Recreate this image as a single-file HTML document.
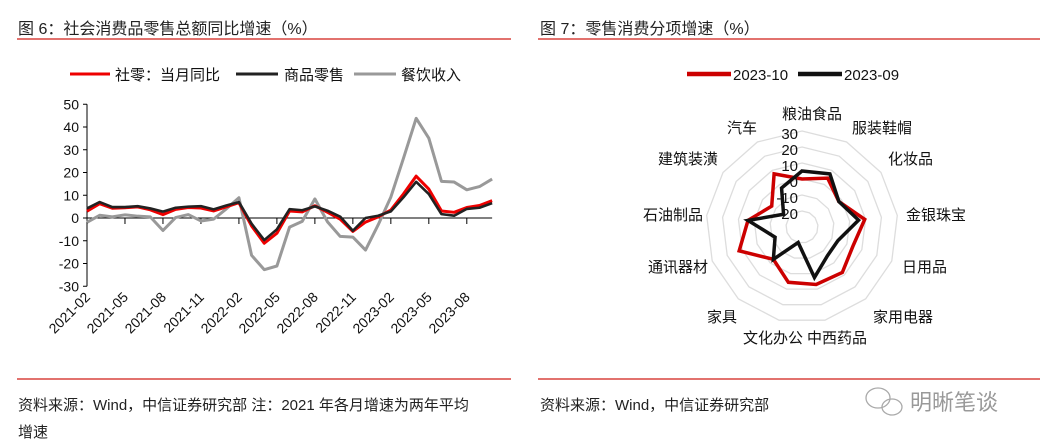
<!DOCTYPE html>
<html><head><meta charset="utf-8">
<style>
body{margin:0;background:#fff;width:1056px;height:446px;overflow:hidden;font-family:"Liberation Sans","Noto Sans CJK SC",sans-serif;}
svg{position:absolute;left:0;top:0}
</style></head><body>
<svg id="s" width="1056" height="446" xmlns="http://www.w3.org/2000/svg" font-family="Liberation Sans, Noto Sans CJK SC, sans-serif">
<text x="18" y="34" font-size="16" fill="#222">图 6：社会消费品零售总额同比增速（%）</text>
<text x="540" y="34" font-size="16" fill="#222">图 7：零售消费分项增速（%）</text>
<line x1="17" y1="39" x2="511" y2="39" stroke="#d9433f" stroke-width="1.5"/>
<line x1="538" y1="39" x2="1040" y2="39" stroke="#d9433f" stroke-width="1.5"/>
<line x1="17" y1="379" x2="511" y2="379" stroke="#d9433f" stroke-width="1.5"/>
<line x1="538" y1="379" x2="1040" y2="379" stroke="#d9433f" stroke-width="1.5"/>
<text x="18" y="410" font-size="15" fill="#222">资料来源：Wind，中信证券研究部  注：2021 年各月增速为两年平均</text>
<text x="18" y="437" font-size="15" fill="#222">增速</text>
<text x="540" y="410" font-size="15" fill="#222">资料来源：Wind，中信证券研究部</text>
<g stroke="#aaa" fill="none" stroke-width="1.3"><ellipse cx="878" cy="398" rx="12" ry="10"/><ellipse cx="892" cy="407" rx="10" ry="8"/></g>
<text x="910" y="410" font-size="22" fill="#999">明晰笔谈</text>
<line x1="70" y1="74" x2="110" y2="74" stroke="#e00" stroke-width="3"/>
<text x="115" y="80" font-size="15" fill="#111">社零：当月同比</text>
<line x1="236" y1="74" x2="278" y2="74" stroke="#222" stroke-width="3"/>
<text x="284" y="80" font-size="15" fill="#111">商品零售</text>
<line x1="354" y1="74" x2="396" y2="74" stroke="#999" stroke-width="3"/>
<text x="401" y="80" font-size="15" fill="#111">餐饮收入</text>
<line x1="687" y1="74" x2="731" y2="74" stroke="#c00" stroke-width="4.5"/>
<text x="733" y="80" font-size="15" fill="#111">2023-10</text>
<line x1="798" y1="74" x2="842" y2="74" stroke="#111" stroke-width="4.5"/>
<text x="844" y="80" font-size="15" fill="#111">2023-09</text>
<g id="L"></g><g id="R"></g>
</svg>
<script>
var NS="http://www.w3.org/2000/svg";
function el(p,t,a,txt){var e=document.createElementNS(NS,t);for(var k in a)e.setAttribute(k,a[k]);if(txt!=null)e.textContent=txt;p.appendChild(e);return e;}
var L=document.getElementById('L');
var x0=87,dx=12.66,zy=218,py=2.275;
function Y(v){return zy-v*py;}
el(L,'line',{x1:x0,y1:Y(50),x2:x0,y2:Y(-30),stroke:'#000','stroke-width':1});
for(var v=-30;v<=50;v+=10){el(L,'line',{x1:x0-4,y1:Y(v),x2:x0,y2:Y(v),stroke:'#000'});el(L,'text',{x:x0-8,y:Y(v)+5,'font-size':14,'text-anchor':'end',fill:'#111'},v);}
el(L,'line',{x1:x0,y1:zy,x2:x0+32*dx,y2:zy,stroke:'#000'});
var labs=['2021-02','2021-05','2021-08','2021-11','2022-02','2022-05','2022-08','2022-11','2023-02','2023-05','2023-08'];
for(var i=0;i<11;i++){var x=x0+i*3*dx;if(i>0)el(L,'line',{x1:x,y1:zy,x2:x,y2:zy+6,stroke:'#000'});
el(L,'text',{x:x+4,y:298,'font-size':14,'text-anchor':'end',fill:'#111',transform:'rotate(-45 '+(x+4)+' 298)'},labs[i]);}
var gray=[-1.9,1.2,0.5,1.4,0.8,0.5,-5.5,0.2,1.5,-1.3,-0.5,4.0,8.9,-16.4,-22.7,-21.1,-4.0,-1.5,8.4,-1.7,-8.1,-8.4,-14.1,-3,9.2,26.3,43.8,35.1,16.1,15.8,12.4,13.8,17.1];
var red=[3.0,6.3,4.3,4.5,4.9,3.6,1.5,3.8,4.6,4.4,3.1,4.9,6.7,-3.5,-11.1,-6.7,3.1,2.7,5.4,2.5,-0.5,-5.9,-1.8,0.5,3.5,10.6,18.4,12.7,3.1,2.5,4.6,5.5,7.6];
var blk=[4.2,7.0,4.8,4.8,5.2,4.2,2.8,4.5,5.0,5.2,3.8,5.5,7.0,-2.5,-9.7,-5.0,3.9,3.4,5.1,3.2,0.6,-5.6,0.0,1.0,2.9,9.1,15.9,10.5,1.7,1.0,4.0,4.5,6.5];
function pl(d,c,w){el(L,'polyline',{points:d.map(function(v,i){return (x0+i*dx)+','+Y(v)}).join(' '),fill:'none',stroke:c,'stroke-width':w,'stroke-linejoin':'round'});}
pl(gray,'#999',3);pl(red,'#e00',3);pl(blk,'#222',2.6);
var R=document.getElementById('R');var cx=802,cy=227;
function rad(v){return (v+30)*1.6;}
var N=13;
var names=['粮油食品','服装鞋帽','化妆品','金银珠宝','日用品','家用电器','中西药品','文化办公','家具','通讯器材','石油制品','建筑装潢','汽车'];
function pt(i,r){var a=-Math.PI/2+i*2*Math.PI/N;return [cx+r*Math.cos(a),cy+r*Math.sin(a)];}
for(var v=-20;v<=30;v+=10){var ps=[];for(var i=0;i<N;i++)ps.push(pt(i,rad(v)).join(','));el(R,'polygon',{points:ps.join(' '),fill:'none',stroke:'#ddd','stroke-width':1.3});}
var rv=[0,4.5,-2,9.5,4,8,7,5.6,-3,12,4,-7,7.5];
var bv=[5,7.5,-2,5.6,-6,-6,2.5,-20,-3,-12,4,-16,-2.5];
function rp(d,c){var ps=d.map(function(v,i){return pt(i,rad(v)).join(',')});el(R,'polygon',{points:ps.join(' '),fill:'none',stroke:c,'stroke-width':3.5,'stroke-linejoin':'miter'});}
rp(rv,'#c00');rp(bv,'#111');
[30,20,10,0,-10,-20].forEach(function(v){el(R,'text',{x:cx-4,y:cy-rad(v)+8,'font-size':15,'text-anchor':'end',fill:'#111'},v);});
var lp=[[812,119,'middle'],[852,133,'start'],[888,164,'start'],[906,220,'start'],[902,272,'start'],[873,322,'start'],[807,343,'start'],[803,343,'end'],[737,322,'end'],[708,272,'end'],[703,220,'end'],[718,164,'end'],[757,133,'end']];
for(var i=0;i<N;i++)el(R,'text',{x:lp[i][0],y:lp[i][1],'font-size':15,'text-anchor':lp[i][2],fill:'#111'},names[i]);
</script>
</body></html>
